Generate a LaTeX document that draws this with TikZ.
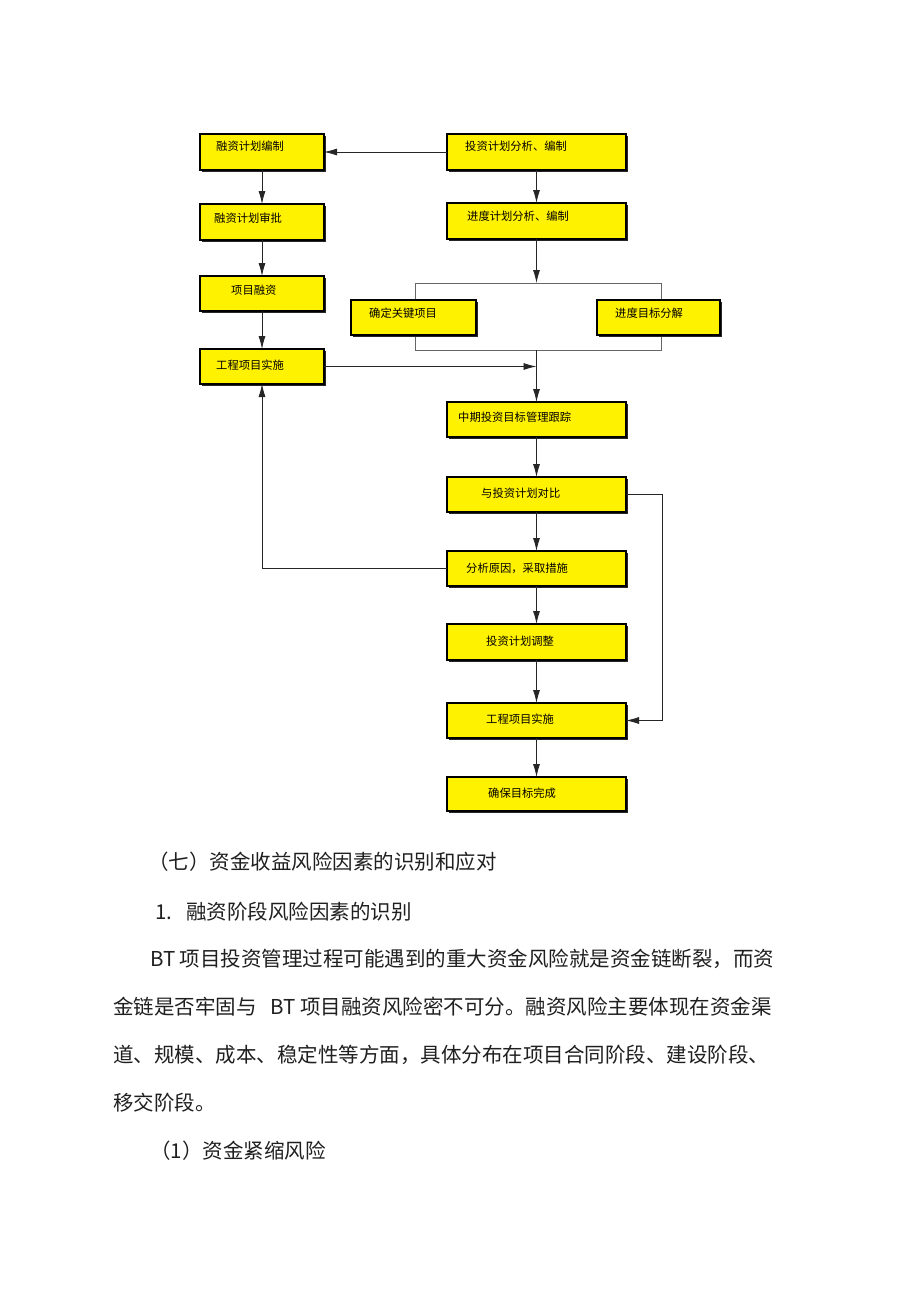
\documentclass[tikz,border=0pt]{standalone}
\usepackage{fontspec}
\setmainfont{Noto Sans CJK SC}
\usetikzlibrary{arrows.meta,shadows}
\tikzset{
  box/.style={draw=black, line width=2.6pt, fill=yellow, inner sep=0pt, outer sep=0pt, anchor=north west,
    general shadow={fill=black!85, shadow xshift=1.6pt, shadow yshift=-1.6pt}},
  btxt/.style={anchor=west, inner sep=0pt, font=\fontsize{11.3}{13}\selectfont, text=black},
  arr/.style={draw=black!85, line width=0.8pt, -{Latex[length=13pt,width=7pt]}},
  brk/.style={draw=black!60, line width=0.8pt},
  para/.style={anchor=west, inner sep=0pt, font=\fontsize{20.5}{24}\selectfont, text=black!88},
}
\newcommand\ybox[5]{\node[box, minimum width={#4-#2}, minimum height={#5-#3}] (#1) at (#2,#3) {};}
\begin{document}
\begin{tikzpicture}[x=1pt,y=-1pt]
\useasboundingbox[fill=white] (0,0) rectangle (920,1303);
% bracket
\coordinate (brNW) at (415,283);
\coordinate (brSE) at (661,350);
\coordinate (rr) at (662,0);
\draw[brk] (brNW) rectangle (brSE);
% boxes
\ybox{b1}{200}{134}{324}{170}
\ybox{b2}{447}{134}{626}{170}
\ybox{b3}{200}{204}{324}{240}
\ybox{b4}{447}{203}{626}{239}
\ybox{b5}{200}{276}{324}{311}
\ybox{b6}{351}{300}{476}{335}
\ybox{b7}{597}{300}{720}{335}
\ybox{b8}{200}{349}{324}{384}
\ybox{b9}{447}{402}{626}{437}
\ybox{b10}{447}{477}{626}{512}
\ybox{b11}{447}{551}{626}{586}
\ybox{b12}{447}{624}{626}{660}
\ybox{b13}{447}{703}{626}{738}
\ybox{b14}{447}{777}{626}{811}
\coordinate (brT) at (b4.south |- brNW);
\coordinate (brB) at (b9.north |- brSE);
% box texts
\node[btxt] (t1) at (216,146) {融资计划编制};
\node[btxt] (t2) at (465,146) {投资计划分析、编制};
\node[btxt] (t3) at (214,218) {融资计划审批};
\node[btxt] (t4) at (467,216) {进度计划分析、编制};
\node[btxt] (t5) at (231,290) {项目融资};
\node[btxt] (t6) at (369,313) {确定关键项目};
\node[btxt] (t7) at (615,313) {进度目标分解};
\node[btxt] (t8) at (216,365) {工程项目实施};
\node[btxt] (t9) at (458,417) {中期投资目标管理跟踪};
\node[btxt] (t10) at (481,493) {与投资计划对比};
\node[btxt] (t11) at (466,568) {分析原因，采取措施};
\node[btxt] (t12) at (486,641) {投资计划调整};
\node[btxt] (t13) at (486,719) {工程项目实施};
\node[btxt] (t14) at (488,793) {确保目标完成};
% connectors
\draw[arr] (b2.west) -- (b1.east);
\draw[arr] (b1.south) -- (b3.north);
\draw[arr] (b3.south) -- (b5.north);
\draw[arr] (b5.south) -- (b8.north);
\draw[arr] (b2.south) -- (b4.north);
\draw[arr] (b4.south) -- (brT);
\draw[arr] (brB) -- (b9.north);
\draw[arr] (b8.east) -- (b8.east -| brB);
\draw[arr] (b9.south) -- (b10.north);
\draw[arr] (b10.south) -- (b11.north);
\draw[arr] (b11.south) -- (b12.north);
\draw[arr] (b12.south) -- (b13.north);
\draw[arr] (b13.south) -- (b14.north);
\draw[arr] (b11.west) -| (b8.south);
\draw[arr] (b10.east) -- (b10.east -| rr) |- (b13.east);
% body text
\node[para] (p1) at (148,862) {（七）资金收益风险因素的识别和应对};
\node[para] (p2) at (155,912) {1.\hspace{14pt}融资阶段风险因素的识别};
\node[para] (p3) at (150,959) {BT 项目投资管理过程可能遇到的重大资金风险就是资金链断裂，而资};
\node[para] (p4) at (113,1007) {金链是否牢固与\hspace{14pt}BT 项目融资风险密不可分。融资风险主要体现在资金渠};
\node[para] (p5) at (113,1055) {道、规模、成本、稳定性等方面，具体分布在项目合同阶段、建设阶段、};
\node[para] (p6) at (113,1103) {移交阶段。};
\node[para] (p7) at (150,1151) {（1）资金紧缩风险};
\end{tikzpicture}
\end{document}
